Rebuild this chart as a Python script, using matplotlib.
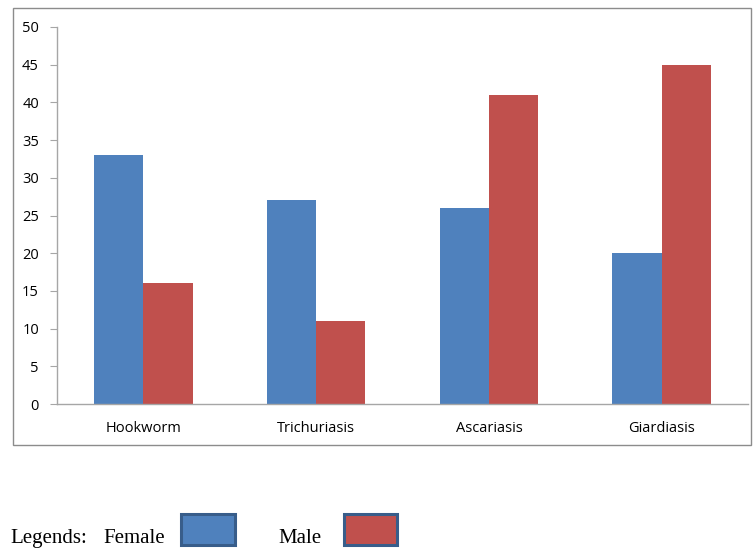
import matplotlib
matplotlib.use("Agg")
import matplotlib.pyplot as plt
from matplotlib.patches import Rectangle
import numpy as np

categories = ["Hookworm", "Trichuriasis", "Ascariasis", "Giardiasis"]
female = [33, 27, 26, 20]
male = [16, 11, 41, 45]
y_ticks = [0, 5, 10, 15, 20, 25, 30, 35, 40, 45, 50]

BLUE = "#4F81BD"
RED = "#C0504D"
AXIS_GRAY = "#A6A6A6"

W, H = 753, 549
fig = plt.figure(figsize=(W / 100, H / 100), dpi=100)

# outer chart frame
fig.patches.append(Rectangle((13 / W, 1 - 445 / H), (751 - 13) / W, (445 - 8) / H,
                             transform=fig.transFigure, fill=False,
                             edgecolor="#8C8C8C", linewidth=1.0))

ax = fig.add_axes([57 / W, 1 - 404 / H, (748 - 57) / W, (404 - 27) / H])

x = np.arange(len(categories))
bw = 1 / 3.5
ax.bar(x - bw / 2, female, width=bw, color=BLUE, linewidth=0)
ax.bar(x + bw / 2, male, width=bw, color=RED, linewidth=0)

ax.set_xlim(-0.5, len(categories) - 0.5)
ax.set_ylim(0, 50)
ax.set_yticks(y_ticks)
ax.set_xticks(x)
ax.set_xticklabels(categories)

for s in ["top", "right"]:
    ax.spines[s].set_visible(False)
for s in ["left", "bottom"]:
    ax.spines[s].set_color(AXIS_GRAY)
    ax.spines[s].set_linewidth(1.0)

ax.tick_params(axis="y", direction="out", length=5, color=AXIS_GRAY, pad=8,
               labelsize=10.5, labelcolor="black")
ax.tick_params(axis="x", length=0, pad=12, labelsize=10.5, labelcolor="black")
for lbl in ax.get_xticklabels() + ax.get_yticklabels():
    lbl.set_fontfamily("Open Sans")

# legend row beneath the frame
base = 543
serif = dict(family="Liberation Serif", fontsize=15, color="black", va="baseline")
fig.text(10 / W, 1 - base / H, "Legends:", **serif)
fig.text(103 / W, 1 - base / H, "Female", **serif)
fig.text(278 / W, 1 - base / H, "Male", **serif)
for (x0, x1), col in zip([(181, 235), (344, 397)], [BLUE, RED]):
    fig.patches.append(Rectangle((x0 / W, 1 - 545 / H), (x1 - x0) / W, (545 - 514) / H,
                                 transform=fig.transFigure, facecolor=col,
                                 edgecolor="#385D8A", linewidth=2.2))

fig.savefig("out.png", dpi=100)
